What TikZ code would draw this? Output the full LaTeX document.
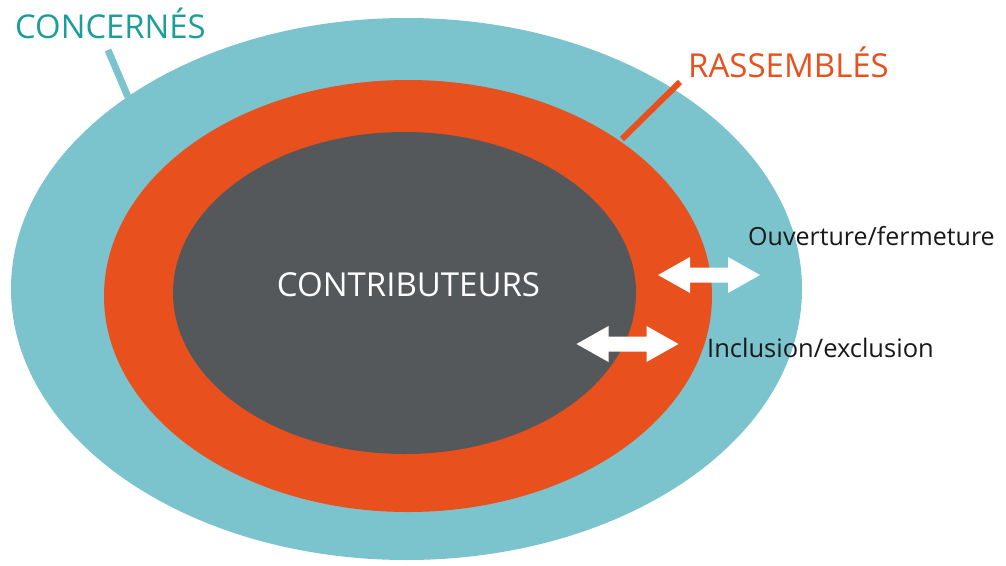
\documentclass[tikz,border=0pt]{standalone}
\usepackage{fontspec}
\setmainfont{Open Sans}
\definecolor{lagon}{HTML}{7BC3CD}
\definecolor{brique}{HTML}{E8511D}
\definecolor{ardoise}{HTML}{55585B}
\definecolor{sarcelle}{HTML}{1B9E97}
\tikzset{
  ring/.style = {draw=none},
  tag/.style = {inner sep=0pt, anchor=base west},
  twoway/.pic = {
    \fill[white] (-51,0) -- (-19,-18) -- (-19,-7.5) -- (19,-7.5) -- (19,-18)
      -- (51,0) -- (19,18) -- (19,7.5) -- (-19,7.5) -- (-19,18) -- cycle;
  }
}
\begin{document}
\begin{tikzpicture}[x=1pt, y=-1pt]
    \useasboundingbox (0,0) rectangle (1006,565);
    % les trois cercles
    \fill[lagon] (406.5,289) ellipse [x radius=395.5, y radius=271];
    \fill[brique] (408,296) ellipse [x radius=304, y radius=216];
    \fill[ardoise] (404.5,293) ellipse [x radius=231.5, y radius=161];
    \node[inner sep=0pt, anchor=base, white, font=\fontsize{33}{36}\selectfont]
      (contrib) at (408.5,296) {CONTRIBUTEURS};
    % etiquettes
    \node[tag, sarcelle, font=\fontsize{32.8}{34}\selectfont] (concernes) at (15,38) {CONCERNÉS};
    \node[tag, brique, font=\fontsize{33}{34}\selectfont] (rassembles) at (688,77) {RASSEMBLÉS};
    \node[tag, black!90, font=\fontsize{25}{30}\selectfont] (ouverture) at (748,245) {Ouverture/fermeture};
    \node[tag, black!90, font=\fontsize{25.5}{30}\selectfont] (inclusion) at (707,357) {Inclusion/exclusion};
    % traits de rappel
    \coordinate (c1) at (108,50);
    \coordinate (c2) at (128,97);
    \coordinate (r1) at (680,82);
    \coordinate (r2) at (622,139);
    \draw[lagon, line width=7pt] (c1) -- (c2);
    \draw[brique, line width=6pt] (r1) -- (r2);
    % fleches
    \pic at (709,275) {twoway};
    \pic at (627.5,344) {twoway};
\end{tikzpicture}
\end{document}
